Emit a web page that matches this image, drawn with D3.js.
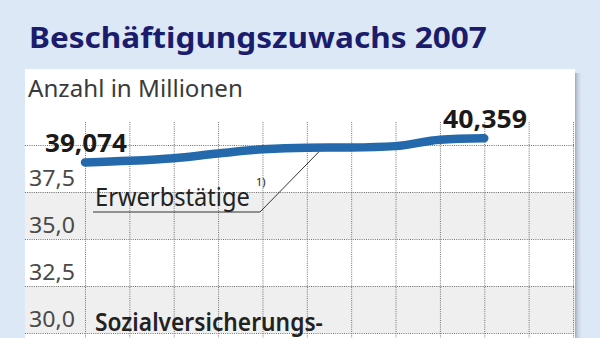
<!DOCTYPE html>
<html>
<head>
<meta charset="utf-8">
<script src="https://cdn.jsdelivr.net/npm/d3@7"></script>
<style>
  html, body { margin: 0; padding: 0; background: #dde8f7; }
  svg { display: block; }
  text { font-family: "Noto Sans", "Open Sans", sans-serif; }
</style>
</head>
<body>
<svg id="chart" width="600" height="338"></svg>
<script>
// Monthly values 2007 (millions)
const months = ["Jan", "Feb", "Mär", "Apr", "Mai", "Jun", "Jul", "Aug", "Sep", "Okt", "Nov", "Dez"];
const erwerbstaetige = [39.074, 39.16, 39.30, 39.55, 39.77, 39.86, 39.87, 39.94, 40.28, 40.359];
const gridValues = [40, 37.5, 35, 32.5, 30, 27.5, 25];
const tickValues = [37.5, 35, 32.5, 30];
const tickLabels = ["37,5", "35,0", "32,5", "30,0"];
const bandRanges = [[35, 37.5], [30, 32.5], [25, 27.5]];
const firstLabel = "39,074";
const lastLabel = "40,359";

const svg = d3.select("#chart");
const W = 600, H = 338;
const panel = { left: 25, right: 575, top: 69 };

const x = d3.scalePoint().domain(months).range([85, 573]);
const y = d3.scaleLinear().domain([30, 40]).range([333, 145]);

// Draws a text and squeezes it horizontally to a given width (condensed look)
function fitText(parent, str, tx, ty, width, size, weight, fill) {
  const t = parent.append("text")
    .attr("font-size", size).attr("font-weight", weight).attr("fill", fill)
    .text(str);
  const w = t.node().getComputedTextLength();
  t.attr("transform", `translate(${tx},${ty}) scale(${width / w},1)`);
  return t;
}

// shadow along the right edge of the panel
const defs = svg.append("defs");
const grad = defs.append("linearGradient").attr("id", "shadow").attr("x1", 0).attr("x2", 1);
grad.append("stop").attr("offset", 0).attr("stop-color", "#8d95a3").attr("stop-opacity", 0.75);
grad.append("stop").attr("offset", 1).attr("stop-color", "#dde8f7").attr("stop-opacity", 0);
svg.append("rect").attr("x", panel.right).attr("y", panel.top + 4)
  .attr("width", 8).attr("height", H - panel.top).attr("fill", "url(#shadow)");

// title
fitText(svg, "Beschäftigungszuwachs 2007", 29, 48, 458, 28, 700, "#1b1d6c");

// white panel
svg.append("rect").attr("x", panel.left).attr("y", panel.top)
  .attr("width", panel.right - panel.left).attr("height", H - panel.top)
  .attr("fill", "#ffffff");

fitText(svg, "Anzahl in Millionen", 28, 97, 215, 24, 400, "#3a3a3a");

// alternating bands
svg.append("g").selectAll("rect").data(bandRanges).join("rect")
  .attr("x", panel.left).attr("width", panel.right - panel.left)
  .attr("y", d => y(d[1])).attr("height", d => y(d[0]) - y(d[1]))
  .attr("fill", "#efefef");

// horizontal grid
const hGrid = svg.append("g").attr("transform", `translate(${panel.left},0)`)
  .call(d3.axisLeft(y).tickValues(gridValues).tickSize(-(panel.right - panel.left)).tickFormat(""));
hGrid.select(".domain").remove();
hGrid.selectAll("line").attr("stroke", "#6f6f6f").attr("stroke-dasharray", "1,1.2");

// vertical grid
const vGrid = svg.append("g").attr("transform", "translate(0,122)")
  .call(d3.axisTop(x).tickSize(-(H - 122)).tickFormat(""));
vGrid.select(".domain").remove();
vGrid.selectAll("line").attr("stroke", "#6f6f6f").attr("stroke-dasharray", "1,1.2");

// y labels
const yLab = svg.append("g");
tickValues.forEach((v, i) => fitText(yLab, tickLabels[i], 29, y(v) - 6, 46, 22, 400, "#4a4a4a"));

// leader line for the series label
const lastX = x(months[6]) - 32;
svg.append("polyline")
  .attr("points", `93,212 260,212 ${lastX},${y(39.865) + 4}`)
  .attr("fill", "none").attr("stroke", "#333").attr("stroke-width", 1);

// series line
const line = d3.line()
  .x((d, i) => x(months[i]))
  .y(d => y(d))
  .curve(d3.curveMonotoneX);
svg.append("path").datum(erwerbstaetige)
  .attr("d", line)
  .attr("fill", "none").attr("stroke", "#2369ab")
  .attr("stroke-width", 8.5).attr("stroke-linecap", "round").attr("stroke-linejoin", "round");

// value labels
fitText(svg, firstLabel, 45, 152, 82, 25, 700, "#1a1a1a");
fitText(svg, lastLabel, 443, 128, 84, 25, 700, "#1a1a1a");

// series names
fitText(svg, "Erwerbstätige", 95, 206, 155, 25, 400, "#222");
svg.append("text").attr("x", 256).attr("y", 186)
  .attr("font-size", 11).attr("fill", "#222")
  .text("1)");
fitText(svg, "Sozialversicherungs-", 95, 331, 228, 25, 600, "#222");
</script>
</body>
</html>
